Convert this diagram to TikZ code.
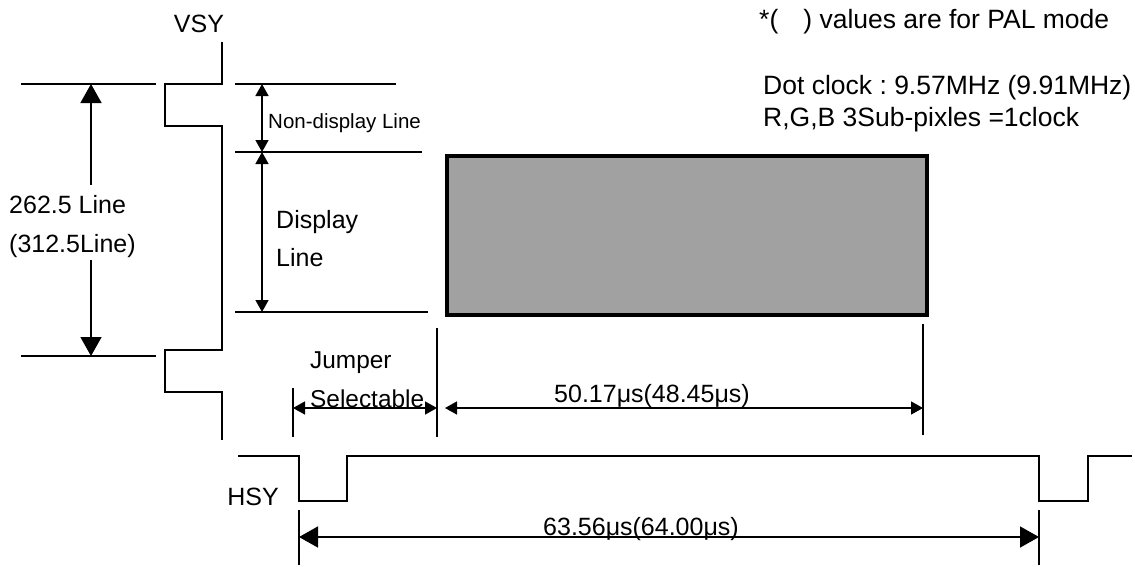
\documentclass[tikz,border=0pt]{standalone}
\usepackage{fontspec}
\setmainfont{Liberation Sans}
\usetikzlibrary{arrows.meta}
\frenchspacing
\begin{document}
\begin{tikzpicture}[x=1pt,y=-1pt,
  wire/.style={line width=1.7pt, line join=miter},
  dimline/.style={line width=1.5pt},
  bigarr/.style={dimline, -{Triangle[length=19pt,width=21pt]}},
  bigboth/.style={dimline, {Triangle[length=19pt,width=21pt]}-{Triangle[length=19pt,width=21pt]}},
  smallboth/.style={dimline, {Triangle[length=12pt,width=13pt]}-{Triangle[length=12pt,width=13pt]}},
  txt/.style={inner sep=0, anchor=base west, font=\fontsize{25}{30}\selectfont},
  jtxt/.style={inner sep=0, anchor=base west, font=\fontsize{24.4}{30}\selectfont},
  ntxt/.style={inner sep=0, anchor=base west, font=\fontsize{26.5}{30}\selectfont},
  ctxt/.style={inner sep=0, anchor=base, font=\fontsize{25}{30}\selectfont},
  stxt/.style={inner sep=0, anchor=base west, font=\fontsize{20.5}{24}\selectfont},
  screen/.style={draw, line width=3.8pt, fill=black!37}]
\useasboundingbox (0,0) rectangle (1135,566);

% ---------- VSY waveform ----------
\node[ctxt] (vsy) at (199,32) {VSY};
\draw[wire] (222,42) -- (222,84) -- (165,84) -- (165,126) -- (222,126)
  -- (222,350) -- (165,350) -- (165,392) -- (222,392) -- (222,440);

% left reference lines and total line count
\coordinate (lt0) at (21,84);  \coordinate (lt1) at (156,84);
\coordinate (lb0) at (21,356); \coordinate (lb1) at (156,356);
\draw[wire] (lt0) -- (lt1);
\draw[wire] (lb0) -- (lb1);
\node[txt] (tot1) at (9,213) {262.5 Line};
\node[txt] (tot2) at (9,252) {(312.5Line)};
\coordinate (ta) at (91,84);  \coordinate (tb) at (91,185);
\coordinate (tc) at (91,260); \coordinate (td) at (91,356);
\draw[bigarr] (tb) -- (ta);
\draw[bigarr] (tc) -- (td);

% right reference lines
\coordinate (r1a) at (235,84);  \coordinate (r1b) at (396,84);
\coordinate (r2a) at (235,152); \coordinate (r2b) at (422,152);
\coordinate (r3a) at (235,312); \coordinate (r3b) at (428,312);
\draw[wire] (r1a) -- (r1b);
\draw[wire] (r2a) -- (r2b);
\draw[wire] (r3a) -- (r3b);
\coordinate (n1) at (262,84); \coordinate (n2) at (262,152); \coordinate (n3) at (262,312);
\draw[smallboth] (n1) -- (n2);
\draw[smallboth] (n2) -- (n3);
\node[stxt] (nondisp) at (268,128) {Non-display Line};
\node[txt] (disp1) at (276,228) {Display};
\node[txt] (disp2) at (276,266) {Line};

% display area
\node[screen, minimum width=480pt, minimum height=159pt, anchor=north west, inner sep=0] (scr) at (445,154) {};

% horizontal timing
\coordinate (j0) at (293,388); \coordinate (j1) at (293,437);
\coordinate (k0) at (437,328); \coordinate (k1) at (437,437);
\coordinate (m0) at (923,324); \coordinate (m1) at (923,435);
\draw[wire] (j0) -- (j1);
\draw[wire] (k0) -- (k1);
\draw[wire] (m0) -- (m1);
\coordinate (ja) at (293,408); \coordinate (jb) at (437,408);
\coordinate (da) at (445,408); \coordinate (db) at (923,408);
\draw[smallboth] (ja) -- (jb);
\draw[smallboth] (da) -- (db);
\node[jtxt] (jump1) at (310,368) {Jumper};
\node[jtxt] (jump2) at (310,407) {Selectable};
\node[ctxt] (dtime) at (652,402) {50.17μs(48.45μs)};

% ---------- HSY waveform ----------
\node[ctxt] (hsy) at (253,505) {HSY};
\draw[wire] (238,456) -- (299,456) -- (299,501) -- (347,501) -- (347,456)
  -- (1039,456) -- (1039,501) -- (1088,501) -- (1088,456) -- (1132,456);
\coordinate (h0) at (299,510); \coordinate (h1) at (299,565);
\coordinate (g0) at (1039,510); \coordinate (g1) at (1039,565);
\draw[wire] (h0) -- (h1);
\draw[wire] (g0) -- (g1);
\coordinate (ha) at (299,537); \coordinate (hb) at (1039,537);
\draw[bigboth] (ha) -- (hb);
\node[ctxt] (htime) at (641,535) {63.56μs(64.00μs)};

% ---------- notes ----------
\node[ntxt] (note1) at (759,28) {*(\hspace*{25pt}) values are for PAL mode};
\node[ntxt] (note2) at (763,94) {Dot clock : 9.57MHz (9.91MHz)};
\node[ntxt] (note3) at (763,126) {R,G,B 3Sub-pixles =1clock};
\end{tikzpicture}
\end{document}
